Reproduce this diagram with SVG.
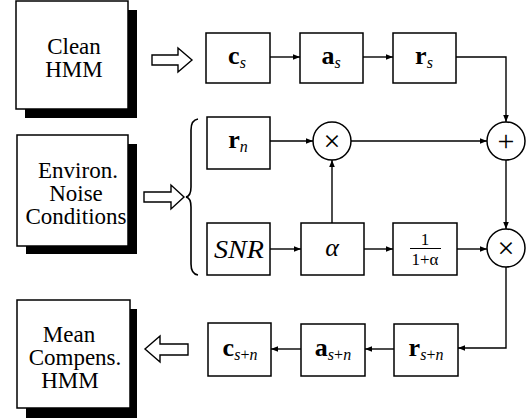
<svg xmlns="http://www.w3.org/2000/svg" width="526" height="419" viewBox="0 0 526 419">
<defs>
<marker id="ah" viewBox="0 0 10 10" refX="10" refY="5" markerWidth="7" markerHeight="7" markerUnits="userSpaceOnUse" orient="auto">
<path d="M0,1 L10,5 L0,9 Z" fill="#000"/>
</marker>
<style>
.box{fill:#fff;stroke:#000;stroke-width:1.5}
.shadow{fill:#000}
text{font-family:'Liberation Serif','DejaVu Serif','Times New Roman',serif}
.big{font-size:23px;fill:#000;text-anchor:middle}
.lbl{font-size:26px;fill:#000;text-anchor:middle}
.b{font-weight:bold}
.sub{font-style:italic;font-size:16px}
.subr{font-size:16px}
.it{font-style:italic}
.op{font-size:30px;fill:#000;text-anchor:middle}
.circ{fill:#fff;stroke:#000;stroke-width:1.5}
.con{fill:none;stroke:#000;stroke-width:1.4;marker-end:url(#ah)}
.hol{fill:#fff;stroke:#000;stroke-width:1.4;stroke-linejoin:miter}
.frac{font-size:17px;fill:#000;text-anchor:middle}
</style>
</defs>
<rect width="526" height="419" fill="#fff"/>

<g id="clean-hmm">
<rect class="shadow" x="25" y="10" width="112" height="108"/>
<rect class="box" x="16" y="1" width="112" height="108"/>
<text class="big" x="74" y="54">Clean</text>
<text class="big" x="74" y="77">HMM</text>
</g>

<g id="environ">
<rect class="shadow" x="26" y="144" width="111" height="110"/>
<rect class="box" x="17" y="135" width="111" height="111"/>
<text class="big" x="78" y="178">Environ.</text>
<text class="big" x="76" y="201">Noise</text>
<text class="big" x="76" y="224">Conditions</text>
</g>

<g id="mean-hmm">
<rect class="shadow" x="26" y="309" width="111" height="109"/>
<rect class="box" x="17" y="300" width="113" height="108"/>
<text class="big" x="69" y="342">Mean</text>
<text class="big" x="75" y="365">Compens.</text>
<text class="big" x="70" y="388">HMM</text>
</g>

<g id="hollow-arrows">
<polygon class="hol" points="152,55 178,55 178,48 192,60 178,72 178,65 152,65"/>
<polygon class="hol" points="144,192 171,192 171,185 184,197 171,209 171,202 144,202"/>
<polygon class="hol" points="188,344 160,344 160,336 145,349 160,362 160,355 188,355"/>
</g>

<g id="brace">
<path d="M198,119 Q191,120 191,130 L191,187 Q191,196 186,197 Q191,198 191,207 L191,264 Q191,274 198,275" fill="none" stroke="#000" stroke-width="1.6"/>
</g>

<g id="cs">
<rect class="box" x="206" y="33" width="64" height="50"/>
<text class="lbl" x="237" y="64"><tspan class="b">c</tspan><tspan class="sub" dy="4">s</tspan></text>
</g>
<g id="as">
<rect class="box" x="300" y="33" width="63" height="50"/>
<text class="lbl" x="331" y="64"><tspan class="b">a</tspan><tspan class="sub" dy="4">s</tspan></text>
</g>
<g id="rs">
<rect class="box" x="393" y="33" width="63" height="50"/>
<text class="lbl" x="424" y="64"><tspan class="b">r</tspan><tspan class="sub" dy="4">s</tspan></text>
</g>
<g id="rn">
<rect class="box" x="207" y="117" width="63" height="52"/>
<text class="lbl" x="238" y="148"><tspan class="b">r</tspan><tspan class="sub" dy="4">n</tspan></text>
</g>
<g id="snr">
<rect class="box" x="207" y="223" width="63" height="52"/>
<text class="lbl it" x="239" y="258" textLength="50" lengthAdjust="spacingAndGlyphs">SNR</text>
</g>
<g id="alpha">
<rect class="box" x="301" y="223" width="63" height="52"/>
<text class="lbl it" x="332" y="256">α</text>
</g>
<g id="frac">
<rect class="box" x="393" y="223" width="64" height="52"/>
<text class="frac" x="425" y="245">1</text>
<line x1="410" y1="248.5" x2="441" y2="248.5" stroke="#000" stroke-width="1"/>
<text class="frac" x="425" y="265">1+α</text>
</g>
<g id="rsn">
<rect class="box" x="394" y="324" width="64" height="52"/>
<text class="lbl" x="426" y="356"><tspan class="b">r</tspan><tspan class="sub" dy="4">s</tspan><tspan class="subr">+</tspan><tspan class="sub">n</tspan></text>
</g>
<g id="asn">
<rect class="box" x="301" y="324" width="64" height="52"/>
<text class="lbl" x="333" y="356"><tspan class="b">a</tspan><tspan class="sub" dy="4">s</tspan><tspan class="subr">+</tspan><tspan class="sub">n</tspan></text>
</g>
<g id="csn">
<rect class="box" x="208" y="323" width="63" height="53"/>
<text class="lbl" x="240" y="356"><tspan class="b">c</tspan><tspan class="sub" dy="4">s</tspan><tspan class="subr">+</tspan><tspan class="sub">n</tspan></text>
</g>

<g id="mult1">
<circle class="circ" cx="332" cy="141" r="19"/>
<text class="op" x="332" y="151">×</text>
</g>
<g id="plus">
<circle class="circ" cx="506" cy="141" r="19"/>
<text class="op" x="506" y="151">+</text>
</g>
<g id="mult2">
<circle class="circ" cx="506" cy="248" r="19"/>
<text class="op" x="506" y="258">×</text>
</g>

<g id="connectors">
<line class="con" x1="270" y1="57" x2="300" y2="57"/>
<line class="con" x1="363" y1="57" x2="393" y2="57"/>
<path class="con" d="M456,57 H506 V122"/>
<line class="con" x1="270" y1="141" x2="313" y2="141"/>
<line class="con" x1="351" y1="141" x2="487" y2="141"/>
<line class="con" x1="270" y1="249" x2="301" y2="249"/>
<line class="con" x1="332" y1="223" x2="332" y2="160"/>
<line class="con" x1="364" y1="249" x2="393" y2="249"/>
<line class="con" x1="457" y1="249" x2="487" y2="249"/>
<line class="con" x1="506" y1="160" x2="506" y2="229"/>
<path class="con" d="M506,267 V348 H458"/>
<line class="con" x1="394" y1="349" x2="365" y2="349"/>
<line class="con" x1="301" y1="349" x2="271" y2="349"/>
</g>
</svg>
